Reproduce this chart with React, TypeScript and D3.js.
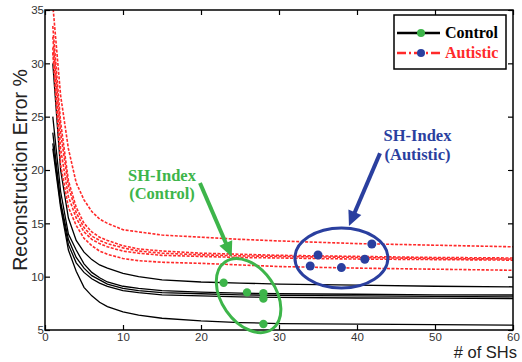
import { useEffect, useRef } from "react";
import * as d3 from "d3";

// number of SHs where each reconstruction curve was sampled
const shCounts = [1, 2, 3, 4, 5, 6, 7, 8, 10, 12, 15, 20, 25, 30, 40, 50, 60];

// control subjects (black solid)
const control1 = [30, 20, 15.5, 13.4, 12.3, 11.6, 11.1, 10.8, 10.3, 10.0, 9.7, 9.5, 9.4, 9.3, 9.2, 9.1, 9.05];
const control2 = [25, 18, 14, 12.5, 11.2, 10.4, 9.9, 9.5, 9.1, 8.9, 8.7, 8.55, 8.45, 8.4, 8.35, 8.3, 8.28];
const control3 = [23.5, 17, 13.5, 11.8, 10.8, 10.1, 9.7, 9.3, 8.9, 8.7, 8.5, 8.4, 8.3, 8.25, 8.2, 8.15, 8.1];
const control4 = [22.5, 16.8, 13, 11.3, 10.4, 9.8, 9.4, 9.1, 8.7, 8.5, 8.3, 8.2, 8.1, 8.05, 8.0, 7.98, 7.95];
const control5 = [22, 16.5, 12.5, 10.5, 9.0, 8.2, 7.6, 7.2, 6.7, 6.4, 6.1, 5.85, 5.7, 5.6, 5.55, 5.5, 5.45];

// autistic subjects (red dashed)
const autistic1 = [35.5, 27, 22, 18.8, 17.2, 16.1, 15.4, 15.0, 14.4, 14.2, 13.9, 13.7, 13.5, 13.35, 13.1, 12.95, 12.8];
const autistic2 = [33.5, 24.5, 19, 16.5, 15.0, 14.2, 13.7, 13.4, 12.9, 12.6, 12.4, 12.2, 12.1, 12.0, 11.9, 11.8, 11.75];
const autistic3 = [32.5, 23.5, 18.5, 16, 14.6, 13.8, 13.4, 13.1, 12.7, 12.4, 12.2, 12.05, 11.95, 11.9, 11.8, 11.7, 11.65];
const autistic4 = [31.5, 22, 17.5, 15.5, 14.2, 13.5, 13.1, 12.8, 12.4, 12.2, 12.0, 11.9, 11.8, 11.75, 11.65, 11.6, 11.55];
const autistic5 = [31, 20.5, 16.5, 14.8, 13.6, 12.9, 12.4, 12.1, 11.7, 11.5, 11.35, 11.25, 11.1, 10.95, 10.8, 10.7, 10.6];

// SH-Index points
const controlIdxX = [22.9, 25.9, 28.0, 28.0, 28.0];
const controlIdxY = [9.43, 8.53, 8.44, 7.94, 5.56];
const autisticIdxX = [34.0, 35.0, 38.0, 41.0, 41.9];
const autisticIdxY = [11.0, 12.03, 10.85, 11.63, 13.06];

const xTicks = [0, 10, 20, 30, 40, 50, 60];
const yTicks = [5, 10, 15, 20, 25, 30, 35];

const GREEN = "#3db54a";
const BLUE = "#2a3f9f";
const RED = "#ff2a2a";

const App = () => {
    const ref = useRef(null);
    useEffect(() => {
        draw(ref.current);
    }, []);
    return (
        <svg ref={ref} width={522} height={362}
            style={{ position: "absolute", left: 0, top: 0, background: "#fff" }} />
    );
};

const drawArrow = (g, x0, y0, x1, y1, color) => {
    var dx = x1 - x0, dy = y1 - y0;
    var len = Math.sqrt(dx * dx + dy * dy);
    var ux = dx / len, uy = dy / len;
    var headLen = 15, headW = 7;
    var bx = x1 - ux * headLen, by = y1 - uy * headLen;
    g.append("line")
        .attr("x1", x0).attr("y1", y0)
        .attr("x2", bx + ux * 2).attr("y2", by + uy * 2)
        .attr("stroke", color).attr("stroke-width", 4);
    g.append("polygon")
        .attr("points", [
            [x1, y1],
            [bx - uy * headW, by + ux * headW],
            [bx + uy * headW, by - ux * headW]
        ].map(p => p.join(",")).join(" "))
        .attr("fill", color);
};

const draw = (el) => {
    const svg = d3.select(el);
    svg.selectAll("*").remove();

    var left = 45, right = 513, top = 10, bottom = 330;
    var x = d3.scaleLinear().domain([0, 60]).range([left, right]);
    var y = d3.scaleLinear().domain([5, 35]).range([bottom, top]);

    svg.append("defs").append("clipPath").attr("id", "plot-clip")
        .append("rect").attr("x", left).attr("y", top)
        .attr("width", right - left).attr("height", bottom - top);

    var line = d3.line()
        .x((d, i) => x(shCounts[i]))
        .y(d => y(d));

    var plot = svg.append("g").attr("clip-path", "url(#plot-clip)");

    [control1, control2, control3, control4, control5].forEach(c => {
        plot.append("path").attr("d", line(c))
            .attr("fill", "none").attr("stroke", "#000").attr("stroke-width", 1.3);
    });
    [autistic1, autistic2, autistic3, autistic4, autistic5].forEach(c => {
        plot.append("path").attr("d", line(c))
            .attr("fill", "none").attr("stroke", RED).attr("stroke-width", 1.6)
            .attr("stroke-dasharray", "3,1.5");
    });

    // axes, MATLAB box style with inward ticks
    var tickFont = (g) => {
        g.select(".domain").remove();
        g.selectAll(".tick line").attr("stroke", "#000").attr("stroke-width", 1.2);
        g.selectAll("text").attr("font-family", "Liberation Sans, Arial, sans-serif")
            .attr("font-size", 11.5).attr("fill", "#333");
    };
    svg.append("g").attr("transform", "translate(0," + bottom + ")")
        .call(d3.axisBottom(x).tickValues(xTicks).tickSize(-5).tickPadding(3)).call(tickFont);
    svg.append("g").attr("transform", "translate(" + left + ",0)")
        .call(d3.axisLeft(y).tickValues(yTicks).tickSize(-5).tickPadding(1)).call(tickFont);
    svg.append("g").attr("transform", "translate(0," + top + ")")
        .call(d3.axisTop(x).tickValues(xTicks).tickSize(-5).tickFormat(() => "")).call(tickFont);
    svg.append("g").attr("transform", "translate(" + right + ",0)")
        .call(d3.axisRight(y).tickValues(yTicks).tickSize(-5).tickFormat(() => "")).call(tickFont);
    svg.append("rect").attr("x", left).attr("y", top)
        .attr("width", right - left).attr("height", bottom - top)
        .attr("fill", "none").attr("stroke", "#000").attr("stroke-width", 1.5);

    svg.append("text")
        .attr("transform", "translate(27," + (top + bottom) / 2 + ") rotate(-90)")
        .attr("text-anchor", "middle")
        .attr("font-family", "Liberation Sans, Arial, sans-serif")
        .attr("font-size", 19.5)
        .attr("fill", "#222")
        .text("Reconstruction Error %");
    svg.append("text")
        .attr("x", 517).attr("y", 358)
        .attr("text-anchor", "end")
        .attr("font-family", "Liberation Sans, Arial, sans-serif")
        .attr("font-size", 16.5)
        .attr("fill", "#222")
        .text("# of SHs");

    // SH-Index annotations
    var ann = svg.append("g");
    ann.append("ellipse")
        .attr("transform", "translate(" + x(26.1) + "," + y(8.23) + ") rotate(55)")
        .attr("rx", 41).attr("ry", 27)
        .attr("fill", "none").attr("stroke", GREEN).attr("stroke-width", 3);
    ann.append("ellipse")
        .attr("cx", x(38.0)).attr("cy", y(11.75))
        .attr("rx", 46.5).attr("ry", 30)
        .attr("fill", "none").attr("stroke", BLUE).attr("stroke-width", 3);

    ann.selectAll(".cdot").data(controlIdxX).enter().append("circle")
        .attr("cx", d => x(d)).attr("cy", (d, i) => y(controlIdxY[i]))
        .attr("r", 4.2).attr("fill", GREEN);
    ann.selectAll(".adot").data(autisticIdxX).enter().append("circle")
        .attr("cx", d => x(d)).attr("cy", (d, i) => y(autisticIdxY[i]))
        .attr("r", 4.5).attr("fill", BLUE);

    drawArrow(ann, x(19.87), y(18.78), x(23.94), y(11.87), GREEN);
    drawArrow(ann, x(42.95), y(21.57), x(38.97), y(14.75), BLUE);

    var serif = "Liberation Serif, Times New Roman, serif";
    [["SH-Index", 18.97], ["(Control)", 17.28]].forEach(t => {
        ann.append("text").attr("x", x(15)).attr("y", y(t[1]))
            .attr("text-anchor", "middle").attr("font-family", serif)
            .attr("font-weight", "bold").attr("font-size", 16.5).attr("fill", GREEN)
            .text(t[0]);
    });
    [["SH-Index", 22.7], ["(Autistic)", 20.9]].forEach(t => {
        ann.append("text").attr("x", x(47.76)).attr("y", y(t[1]))
            .attr("text-anchor", "middle").attr("font-family", serif)
            .attr("font-weight", "bold").attr("font-size", 16.5).attr("fill", BLUE)
            .text(t[0]);
    });

    // legend
    var lg = svg.append("g");
    lg.append("rect").attr("x", 394).attr("y", 15).attr("width", 112).attr("height", 54)
        .attr("fill", "#fff").attr("stroke", "#000").attr("stroke-width", 1.5);
    lg.append("line").attr("x1", 397).attr("x2", 440).attr("y1", 33).attr("y2", 33)
        .attr("stroke", "#000").attr("stroke-width", 2.5);
    lg.append("circle").attr("cx", 421).attr("cy", 33).attr("r", 4).attr("fill", GREEN);
    lg.append("line").attr("x1", 397).attr("x2", 440).attr("y1", 53).attr("y2", 53)
        .attr("stroke", RED).attr("stroke-width", 2.5).attr("stroke-dasharray", "9,3,2,3");
    lg.append("circle").attr("cx", 421).attr("cy", 53).attr("r", 4).attr("fill", BLUE);
    lg.append("text").attr("x", 445).attr("y", 38)
        .attr("font-family", serif).attr("font-weight", "bold").attr("font-size", 16)
        .attr("fill", "#000").text("Control");
    lg.append("text").attr("x", 445).attr("y", 58)
        .attr("font-family", serif).attr("font-weight", "bold").attr("font-size", 16)
        .attr("fill", RED).text("Autistic");
};

export default App;
